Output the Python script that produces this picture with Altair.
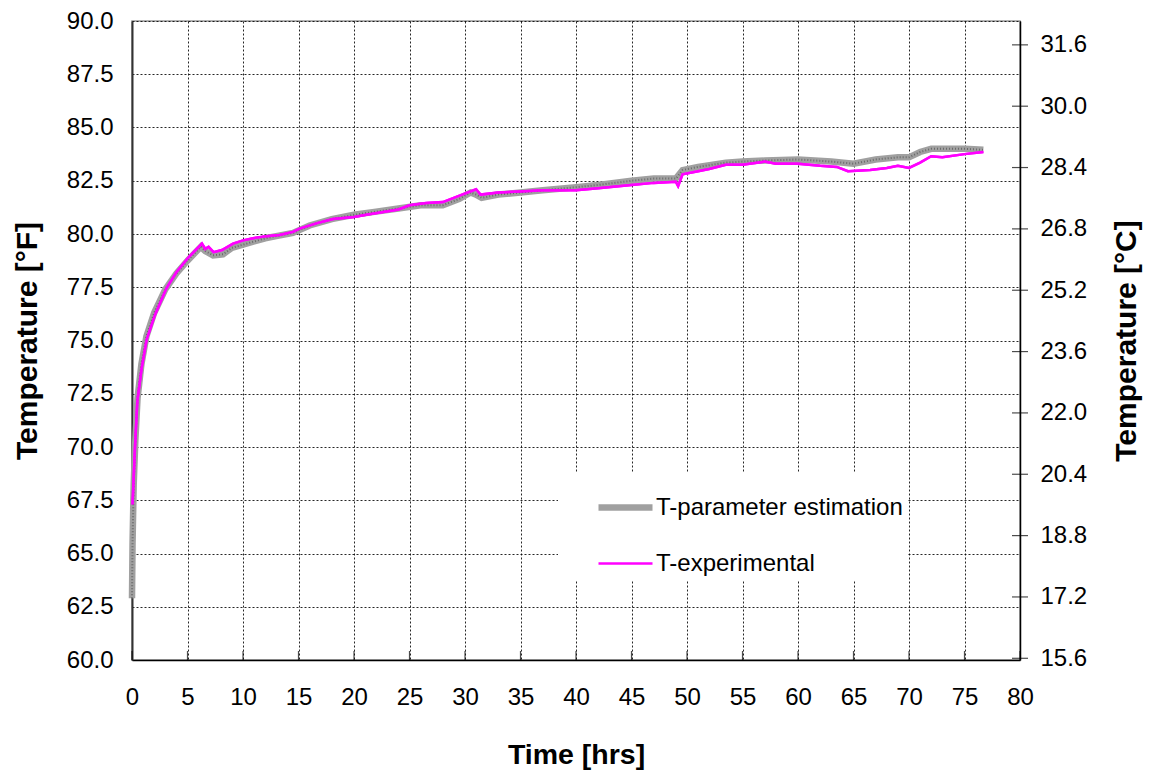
import altair as alt
import pandas as pd

# ---- data ----
exp_t = [0.05, 0.27, 0.48, 0.87, 1.32, 2.07, 3.1, 4.0, 5.0, 6.3, 6.6, 6.9, 7.35, 8.1, 9.1,
         10.0, 10.9, 12.1, 13.3, 14.5, 15.1, 16.6, 18.1, 20.0, 21.1, 24.0, 25.0, 26.5, 28.0,
         29.5, 31.0, 31.4, 33.0, 35.0, 37.0, 39.0, 40.0, 42.0, 45.0, 47.0, 49.0, 49.2, 49.6,
         51.0, 52.0, 53.5, 55.0, 57.0, 58.0, 60.0, 62.0, 63.5, 64.5, 66.5, 68.0, 69.0, 70.0,
         71.0, 72.0, 73.0, 75.0, 76.7]
exp_T = [67.3, 70.0, 72.15, 73.7, 75.05, 76.2, 77.45, 78.2, 78.85, 79.55, 79.3, 79.4, 79.15,
         79.25, 79.55, 79.7, 79.8, 79.9, 79.95, 80.1, 80.25, 80.5, 80.7, 80.8, 80.9, 81.15,
         81.35, 81.45, 81.5, 81.8, 82.1, 81.85, 81.95, 82.0, 82.05, 82.05, 82.05, 82.15, 82.3,
         82.4, 82.45, 82.25, 82.8, 82.95, 83.05, 83.25, 83.25, 83.4, 83.3, 83.3, 83.2, 83.15,
         82.95, 83.0, 83.1, 83.2, 83.1, 83.35, 83.65, 83.6, 83.75, 83.85]

est_t = [0.0, 0.05, 0.15, 0.3, 0.5, 0.85, 1.3, 2.0, 3.0, 4.0, 5.0, 6.2, 6.6, 7.3, 8.2, 9.0,
         10.0, 11.0, 12.0, 13.0, 14.5, 16.0, 18.0, 20.0, 22.0, 24.0, 26.0, 28.0, 29.5, 30.5,
         31.0, 31.5, 33.0, 35.0, 37.0, 40.0, 42.0, 45.0, 47.0, 49.0, 49.6, 51.0, 53.5, 55.0,
         57.0, 60.0, 63.0, 65.0, 67.0, 69.0, 70.0, 71.0, 72.0, 75.0, 76.7]
est_T = [62.9, 65.5, 68.2, 70.3, 72.3, 73.9, 75.2, 76.3, 77.4, 78.15, 78.75, 79.4, 79.2, 79.0,
         79.05, 79.35, 79.5, 79.65, 79.8, 79.9, 80.05, 80.4, 80.7, 80.9, 81.05, 81.2, 81.35,
         81.35, 81.65, 81.95, 81.85, 81.7, 81.85, 81.95, 82.05, 82.2, 82.3, 82.5, 82.6, 82.6,
         83.0, 83.15, 83.35, 83.4, 83.45, 83.5, 83.4, 83.3, 83.5, 83.6, 83.6, 83.85, 84.0,
         84.0, 83.95]

series_names = ["T-parameter estimation", "T-experimental"]
x_ticks = [0, 5, 10, 15, 20, 25, 30, 35, 40, 45, 50, 55, 60, 65, 70, 75, 80]
f_ticks = [60.0, 62.5, 65.0, 67.5, 70.0, 72.5, 75.0, 77.5, 80.0, 82.5, 85.0, 87.5, 90.0]
c_ticks = [15.6, 17.2, 18.8, 20.4, 22.0, 23.6, 25.2, 26.8, 28.4, 30.0, 31.6]

F_DOMAIN = [60, 90]
C_DOMAIN = [(60 - 32) * 5 / 9, (90 - 32) * 5 / 9]

W, H = 888, 639
FONT = "Liberation Sans, Arial, sans-serif"

df = pd.concat([
    pd.DataFrame({"t": est_t, "T": est_T, "series": series_names[0]}),
    pd.DataFrame({"t": exp_t, "T": exp_T, "series": series_names[1]}),
])
df_est = df[df["series"] == series_names[0]]
df_exp = df[df["series"] == series_names[1]]
xt_df = pd.DataFrame({"t": x_ticks})
ct_df = pd.DataFrame({"C": c_ticks})

xscale = alt.Scale(domain=[0, 80], nice=False, zero=False)
fscale = alt.Scale(domain=F_DOMAIN, nice=False, zero=False)

x_enc = alt.X("t:Q", scale=xscale,
              axis=alt.Axis(title="Time [hrs]", values=x_ticks, format="d", grid=True,
                            ticks=False, labelPadding=25, titlePadding=31, labelFlush=False,
                            titleFontSize=28.5,
                            domainColor="#000", domainWidth=1.5))
y_f = alt.Y("T:Q", scale=fscale,
            axis=alt.Axis(title="Temperature [°F]", values=f_ticks, format=".1f", grid=True,
                          ticks=False, labelPadding=19, titlePadding=24, labelFlush=False,
                          titleFontSize=30,
                          domainColor="#333", domainWidth=2))

lines = alt.Chart(df).mark_line(interpolate="linear").encode(
    x=x_enc,
    y=y_f,
    color=alt.Color("series:N", sort=series_names,
                    scale=alt.Scale(domain=series_names, range=["#a0a0a0", "#ff00ff"]),
                    legend=alt.Legend(title=None, orient="none", legendX=426, legendY=451)),
    strokeWidth=alt.StrokeWidth("series:N", sort=series_names,
                                scale=alt.Scale(domain=series_names, range=[6.5, 2.5]),
                                legend=alt.Legend(title=None, orient="none", legendX=426, legendY=451)),
    order=alt.Order("t:Q"),
)

texture = alt.Chart(df_est).mark_line(color="#5c5c5c", strokeWidth=2, strokeDash=[1, 2],
                                      opacity=0.8).encode(
    x=x_enc, y=y_f, order=alt.Order("t:Q"),
)

exp_top = alt.Chart(df_exp).mark_line(color="#ff00ff", strokeWidth=2.5).encode(
    x=x_enc, y=y_f, order=alt.Order("t:Q"),
)

xticks_in = alt.Chart(xt_df).mark_tick(orient="vertical", size=9, thickness=1.2,
                                       color="#000").encode(
    x=x_enc,
    y=alt.value(H - 4.5),
)

c_layer = alt.Chart(ct_df).mark_tick(orient="horizontal", size=16, thickness=1.2,
                                     color="#000").encode(
    x=alt.value(W),
    y=alt.Y("C:Q", scale=alt.Scale(domain=C_DOMAIN, nice=False, zero=False),
            axis=alt.Axis(title="Temperature [°C]", orient="right", values=c_ticks,
                          format=".1f", grid=False, ticks=False, labelPadding=20,
                          titlePadding=55, titleAngle=270, labelFlush=False,
                          titleFontSize=30, domainColor="#000", domainWidth=1.5)),
)

f_layer = alt.layer(lines, texture, exp_top, xticks_in)

chart = alt.layer(f_layer, c_layer).resolve_scale(y="independent").properties(
    width=W, height=H,
    autosize=alt.AutoSizeParams(type="none"),
    padding={"left": 124, "top": 13, "right": 123, "bottom": 110},
    background="white",
).configure_view(
    stroke="#999", strokeWidth=1.5,
).configure_axis(
    labelFont=FONT, titleFont=FONT, labelFontSize=24, titleFontSize=28,
    titleFontWeight="bold", labelColor="#000", titleColor="#000",
    gridColor="#000", gridDash=[2, 2], gridWidth=1, gridOpacity=0.85,
).configure_legend(
    labelFont=FONT, labelFontSize=24, labelColor="#000", labelLimit=400,
    fillColor="white", padding=5, symbolType="stroke", symbolSize=2916,
    symbolOffset=32, labelOffset=0, rowPadding=14,
)

chart.save("out.html", embed_options={"renderer": "svg", "actions": False})
